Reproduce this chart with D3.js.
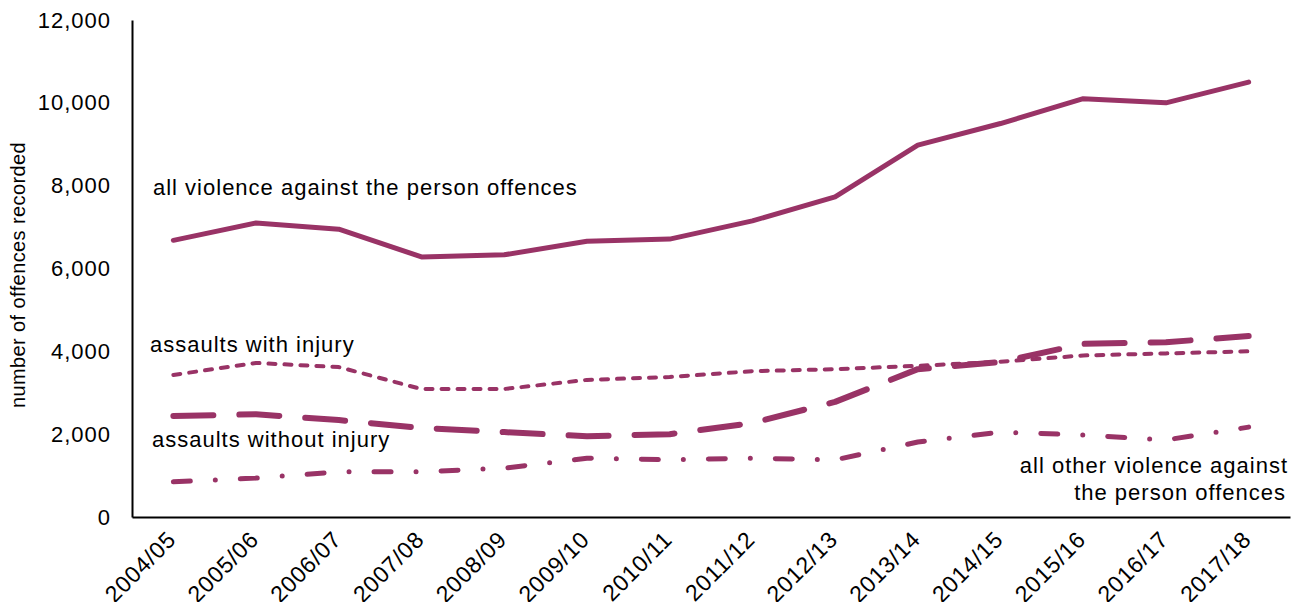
<!DOCTYPE html>
<html>
<head>
<meta charset="utf-8">
<script src="https://cdn.jsdelivr.net/npm/d3@7"></script>
<style>
  html, body { margin: 0; padding: 0; background: #fff; }
  svg { display: block; font-family: "Liberation Sans", Arial, sans-serif; }
</style>
</head>
<body>
<svg id="chart" width="1301" height="602"></svg>
<script>
const categories = ["2004/05","2005/06","2006/07","2007/08","2008/09","2009/10","2010/11","2011/12","2012/13","2013/14","2014/15","2015/16","2016/17","2017/18"];
const allViolence = [6680, 7100, 6950, 6280, 6330, 6660, 6710, 7150, 7730, 8980, 9500, 10100, 10000, 10500];
const withInjury = [3430, 3720, 3620, 3090, 3090, 3310, 3380, 3520, 3570, 3650, 3750, 3900, 3950, 4000];
const withoutInjury = [2440, 2480, 2340, 2150, 2050, 1950, 2000, 2270, 2780, 3570, 3740, 4180, 4220, 4370];
const otherViolence = [850, 940, 1090, 1090, 1180, 1420, 1380, 1420, 1380, 1810, 2050, 1980, 1860, 2170];
const yTicks = [0, 2000, 4000, 6000, 8000, 10000, 12000];

const svg = d3.select("#chart");
const mLeft = 132, mRight = 1290, mTop = 20, mBottom = 517;
const color = "#993366";

const x = d3.scaleBand().domain(categories).range([mLeft, mRight]);
const y = d3.scaleLinear().domain([0, 12000]).range([mBottom, mTop]);
const cx = d => x(d) + x.bandwidth() / 2;

// Y axis
const yAxis = svg.append("g").attr("transform", `translate(${mLeft},0)`)
  .call(d3.axisLeft(y).tickValues(yTicks).tickSize(0).tickPadding(21).tickFormat(d3.format(",")));
yAxis.select(".domain").attr("stroke", "#000").attr("stroke-width", 2);
yAxis.selectAll("text").attr("font-size", 22).attr("letter-spacing", 1).attr("fill", "#000");

// X axis
const xAxis = svg.append("g").attr("transform", `translate(0,${mBottom})`)
  .call(d3.axisBottom(x).tickSize(0).tickPadding(0));
xAxis.select(".domain").attr("stroke", "#000").attr("stroke-width", 2);
xAxis.selectAll("text")
  .attr("font-size", 23).attr("letter-spacing", 0.8).attr("fill", "#000")
  .attr("text-anchor", "end")
  .attr("dy", 0).attr("y", 0)
  .attr("transform", "translate(4,24) rotate(-45)");

// Y title
svg.append("text")
  .attr("transform", `translate(25,275) rotate(-90)`)
  .attr("text-anchor", "middle")
  .attr("font-size", 20).attr("letter-spacing", 0.4).attr("fill", "#000")
  .text("number of offences recorded");

const line = d3.line().x((d, i) => cx(categories[i])).y(d => y(d));

const series = [
  { data: allViolence, width: 5, dash: null },
  { data: withInjury, width: 4, dash: "7,9" },
  { data: withoutInjury, width: 6, dash: "40,26" },
  { data: otherViolence, width: 5, dash: "17,25,0,25" }
];

series.forEach(s => {
  svg.append("path")
    .datum(s.data)
    .attr("d", line)
    .attr("fill", "none")
    .attr("stroke", color)
    .attr("stroke-width", s.width)
    .attr("stroke-linecap", "round")
    .attr("stroke-linejoin", "round")
    .attr("stroke-dasharray", s.dash);
});

// Annotations
const ann = [
  { t: "all violence against the person offences", x: 153, y: 195, a: "start" },
  { t: "assaults with injury", x: 150, y: 352, a: "start" },
  { t: "assaults without injury", x: 152, y: 447, a: "start" },
  { t: "all other violence against", x: 1288, y: 473, a: "end" },
  { t: "the person offences", x: 1286, y: 500, a: "end" }
];
ann.forEach(a => {
  svg.append("text").attr("x", a.x).attr("y", a.y)
    .attr("text-anchor", a.a).attr("font-size", 22).attr("letter-spacing", 1).attr("fill", "#000")
    .text(a.t);
});
</script>
</body>
</html>
